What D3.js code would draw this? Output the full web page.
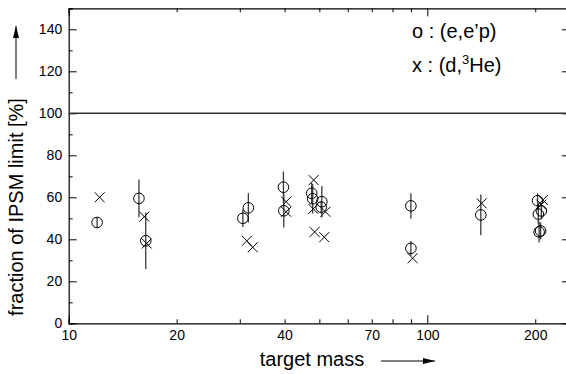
<!DOCTYPE html>
<html>
<head>
<meta charset="utf-8">
<script src="https://cdn.jsdelivr.net/npm/d3@7"></script>
<style>
  body { margin: 0; background: #fff; }
  svg { display: block; font-family: "Liberation Sans", Arial, sans-serif; }
</style>
</head>
<body>
<div id="chart"></div>
<script>
// (e,e'p) points: target mass, fraction [%], error
const massEep = [12, 15.7, 16.4, 30.6, 31.7, 39.7, 39.8, 47.6, 47.9, 50.8, 50.6, 90, 90, 141, 203, 204, 208, 205, 207]
const fracEep = [48, 59.5, 39.3, 50, 55, 64.8, 53.6, 61.9, 59.3, 57.9, 55.3, 55.9, 35.7, 51.6, 58.4, 52, 53.5, 43.5, 44]
const errEep = [2.5, 9, 13.5, 4.2, 7, 7.5, 8, 5, 7, 7.5, 3, 6, 3.5, 9.7, 3.5, 5, 4, 5, 4]

// (d,3He) points
const massDHe = [12.2, 16.25, 16.5, 31.4, 32.6, 40.4, 40.4, 48.2, 48.1, 48.5, 52, 51.6, 91, 141.8, 210, 208]
const fracDHe = [60, 50.8, 38, 39.3, 36.2, 57.9, 53.1, 68.2, 54.5, 43.5, 53.1, 41, 31, 57.1, 58.7, 56.5]

const xTicks = [10, 20, 30, 40, 50, 60, 70, 80, 90, 100, 200]
const xLabels = [10, 20, 40, 70, 100, 200]
const yTicks = d3.range(0, 151, 10)
const yLabels = [0, 20, 40, 60, 80, 100, 120, 140]

const W = 566, H = 374
const margin = { top: 8.3, left: 68.7 }
const plotH = 315
const plotW = 358.6 * Math.log10(25) // frame runs slightly past the right edge

const x = d3.scaleLog().domain([10, 250]).range([0, plotW])
const y = d3.scaleLinear().domain([0, 150]).range([plotH, 0])

const svg = d3.select('#chart').append('svg')
  .attr('width', W).attr('height', H)
  .append('g')
  .attr('transform', `translate(${margin.left},${margin.top})`)

const isDecade = d => d === 10 || d === 100

// Bottom axis
svg.append('g')
  .attr('transform', `translate(0,${plotH})`)
  .call(d3.axisBottom(x).tickValues(xTicks).tickSize(-4).tickPadding(7)
    .tickFormat(d => xLabels.includes(d) ? d : ''))
  .call(g => g.selectAll('.tick line').attr('y2', d => isDecade(d) ? -8 : -4))
  .call(g => g.selectAll('.tick text').attr('font-size', 14).attr('fill', '#000'))

// Top axis
svg.append('g')
  .call(d3.axisTop(x).tickValues(xTicks).tickSize(-4).tickFormat(''))
  .call(g => g.selectAll('.tick line').attr('y2', d => isDecade(d) ? 8 : 4))

// Left axis
svg.append('g')
  .call(d3.axisLeft(y).tickValues(yTicks).tickSize(-4).tickPadding(6.5)
    .tickFormat(d => yLabels.includes(d) ? d : ''))
  .call(g => g.selectAll('.tick line').attr('x2', d => d % 20 === 0 ? 8 : 4))
  .call(g => g.selectAll('.tick text').attr('font-size', 14).attr('fill', '#000'))

// Right axis
svg.append('g')
  .attr('transform', `translate(${plotW},0)`)
  .call(d3.axisRight(y).tickValues(yTicks).tickSize(-4).tickFormat(''))
  .call(g => g.selectAll('.tick line').attr('x2', d => d % 20 === 0 ? -8 : -4))

svg.selectAll('.domain').attr('stroke', '#000').attr('stroke-width', 1.2)
svg.selectAll('.tick line').attr('stroke', '#000')

// 100% limit line
svg.append('line')
  .attr('x1', 0).attr('x2', plotW)
  .attr('y1', y(100)).attr('y2', y(100))
  .attr('stroke', '#333').attr('stroke-width', 1.5)

const eep = massEep.map((m, i) => ({ m, v: fracEep[i], e: errEep[i] }))
const dhe = massDHe.map((m, i) => ({ m, v: fracDHe[i] }))

// error bars
svg.append('g').selectAll('line')
  .data(eep).join('line')
  .attr('x1', d => x(d.m)).attr('x2', d => x(d.m))
  .attr('y1', d => y(d.v - d.e)).attr('y2', d => y(d.v + d.e))
  .attr('stroke', '#3a3a3a').attr('stroke-width', 1.3)

// circles
svg.append('g').selectAll('circle')
  .data(eep).join('circle')
  .attr('cx', d => x(d.m)).attr('cy', d => y(d.v))
  .attr('r', 5.3)
  .attr('fill', 'none').attr('stroke', '#000').attr('stroke-width', 1)

// crosses
const cs = 5
svg.append('g').selectAll('path')
  .data(dhe).join('path')
  .attr('d', d => {
    const cx = x(d.m), cy = y(d.v)
    return `M${cx - cs},${cy - cs}L${cx + cs},${cy + cs}M${cx - cs},${cy + cs}L${cx + cs},${cy - cs}`
  })
  .attr('fill', 'none').attr('stroke', '#000').attr('stroke-width', 1)

// legend
const legend = svg.append('g').attr('font-size', 20).attr('fill', '#000')
legend.append('text').attr('x', 412 - margin.left).attr('y', 38 - margin.top)
  .text('o : (e,e\u2019p)')
const l2 = legend.append('text').attr('x', 412 - margin.left).attr('y', 72 - margin.top)
l2.append('tspan').text('x : (d,')
l2.append('tspan').attr('font-size', 13).attr('dy', -8).text('3')
l2.append('tspan').attr('dy', 8).text('He)')

// axis titles
const root = d3.select('#chart svg')
root.append('defs').append('marker')
  .attr('id', 'arrow').attr('viewBox', '0 0 12 6')
  .attr('refX', 12).attr('refY', 3)
  .attr('markerWidth', 12).attr('markerHeight', 6)
  .attr('markerUnits', 'userSpaceOnUse')
  .attr('orient', 'auto')
  .append('path').attr('d', 'M0,0L12,3L0,6z').attr('fill', '#000')

root.append('text')
  .attr('x', 312).attr('y', 366)
  .attr('text-anchor', 'middle')
  .attr('font-size', 20)
  .text('target mass')
root.append('line')
  .attr('x1', 381).attr('x2', 435).attr('y1', 361).attr('y2', 361)
  .attr('stroke', '#000').attr('stroke-width', 1)
  .attr('marker-end', 'url(#arrow)')

root.append('text')
  .attr('transform', 'translate(23,207) rotate(-90)')
  .attr('text-anchor', 'middle')
  .attr('font-size', 20)
  .text('fraction of IPSM limit [%]')
root.append('line')
  .attr('x1', 16).attr('x2', 16).attr('y1', 79).attr('y2', 26)
  .attr('stroke', '#000').attr('stroke-width', 1)
  .attr('marker-end', 'url(#arrow)')
</script>
</body>
</html>
